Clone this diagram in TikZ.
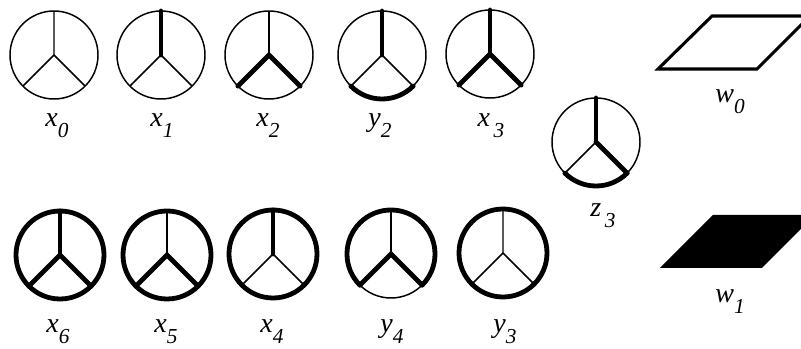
\documentclass[tikz,border=0pt]{standalone}
\usepackage{fontspec}
\setmainfont{Liberation Serif}
\newcommand{\lbl}[2]{\textit{#1}\raisebox{-0.36em}{\fontsize{16}{16}\selectfont\textit{#2}}}

\begin{document}
\begin{tikzpicture}[x=0.75pt, y=0.75pt,
  thinline/.style={line width=1.1pt},
  fatline/.style={line width=3.6pt, line cap=round},
  frame/.style={line width=2.3pt, line join=miter},
  tag/.style={anchor=base, inner sep=0pt, font=\fontsize{21}{21}\selectfont}]
\useasboundingbox (0,0) rectangle (801,349);
\clip (0,0) rectangle (801,349);
% top row
\coordinate (cx0) at (54,294);
\draw[thinline] (cx0) circle (44);
\draw[thinline] (cx0) -- ++(90:44) (cx0) -- ++(225:44) (cx0) -- ++(315:44);
\node[tag] (lx0) at (57,222) {\lbl{x}{0}};
\coordinate (cx1) at (161,294);
\draw[thinline] (cx1) circle (44);
\draw[thinline] (cx1) -- ++(225:44) (cx1) -- ++(315:44);
\draw[fatline] (cx1) -- ++(90:44);
\node[tag] (lx1) at (162,222) {\lbl{x}{1}};
\coordinate (cx2) at (269,294);
\draw[thinline] (cx2) circle (44);
\draw[thinline] (cx2) -- ++(90:44);
\draw[fatline] (cx2) ++(225:44) -- (cx2) -- ++(315:44);
\node[tag] (lx2) at (268,222) {\lbl{x}{2}};
\coordinate (cy2) at (382,294);
\draw[thinline] (cy2) circle (44);
\draw[thinline] (cy2) -- ++(225:44) (cy2) -- ++(315:44);
\draw[fatline] (cy2) -- ++(90:44);
\draw[fatline] (cy2) ++(225:44) arc[start angle=225, end angle=315, radius=44];
\node[tag] (ly2) at (380,222) {\lbl{y}{2}};
\coordinate (cx3) at (490,295);
\draw[thinline] (cx3) circle (44);
\draw[fatline] (cx3) -- ++(90:44);
\draw[fatline] (cx3) ++(225:44) -- (cx3) -- ++(315:44);
\node[tag] (lx3) at (491,222) {\lbl{x}{\,3}};
% middle
\coordinate (cz3) at (596,207);
\draw[thinline] (cz3) circle (44);
\draw[thinline] (cz3) -- ++(225:44);
\draw[fatline] (cz3) -- ++(90:44);
\draw[fatline] (cz3) -- ++(315:44);
\draw[fatline] (cz3) ++(225:44) arc[start angle=225, end angle=315, radius=44];
\node[tag] (lz3) at (603,132) {\lbl{z}{\,3}};
% bottom row
\coordinate (cx6) at (60,94);
\draw[fatline] (cx6) circle (44);
\draw[fatline] (cx6) -- ++(90:44);
\draw[fatline] (cx6) ++(225:44) -- (cx6) -- ++(315:44);
\node[tag] (lx6) at (58,16) {\lbl{x}{6}};
\coordinate (cx5) at (167,94);
\draw[fatline] (cx5) circle (44);
\draw[thinline] (cx5) -- ++(90:44);
\draw[fatline] (cx5) ++(225:44) -- (cx5) -- ++(315:44);
\node[tag] (lx5) at (166,16) {\lbl{x}{5}};
\coordinate (cx4) at (273,95);
\draw[fatline] (cx4) circle (44);
\draw[thinline] (cx4) -- ++(225:44) (cx4) -- ++(315:44);
\draw[fatline] (cx4) -- ++(90:44);
\node[tag] (lx4) at (272,16) {\lbl{x}{4}};
\coordinate (cy4) at (391,95);
\draw[thinline] (cy4) circle (44);
\draw[thinline] (cy4) -- ++(90:44);
\draw[fatline] (cy4) ++(-45:44) arc[start angle=-45, end angle=225, radius=44];
\draw[fatline] (cy4) ++(225:44) -- (cy4) -- ++(315:44);
\node[tag] (ly4) at (392,16) {\lbl{y}{4}};
\coordinate (cy3) at (503,96);
\draw[fatline] (cy3) circle (44);
\draw[thinline] (cy3) -- ++(90:44) (cy3) -- ++(225:44) (cy3) -- ++(315:44);
\node[tag] (ly3) at (505,16) {\lbl{y}{3}};
% plates
\draw[frame] (658,280) -- (757,280) -- (810,333) -- (712,333) -- cycle;
\node[tag] (lw0) at (730,246) {\lbl{w}{0}};
\fill (660,81) -- (762,81) -- (815,134) -- (713,134) -- cycle;
\node[tag] (lw1) at (730,46) {\lbl{w}{1}};
\end{tikzpicture}
\end{document}
